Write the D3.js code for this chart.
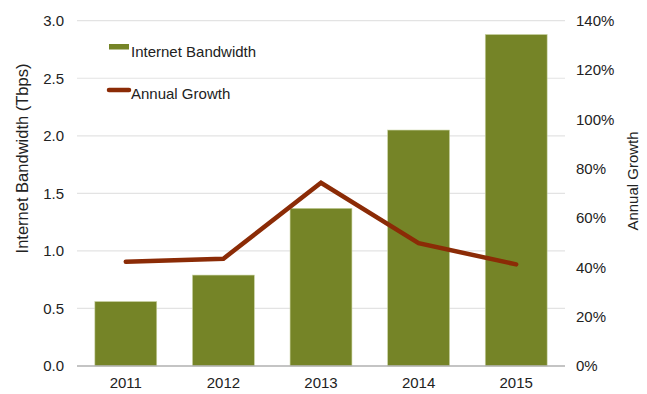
<!DOCTYPE html>
<html>
<head>
<meta charset="utf-8">
<script src="https://cdn.jsdelivr.net/npm/d3@7"></script>
<style>
  html, body { margin: 0; padding: 0; background: #fff; }
  svg { display: block; font-family: "Liberation Sans", Arial, Helvetica, sans-serif; }
</style>
</head>
<body>
<svg id="chart" width="647" height="394"></svg>
<script>
// Internet bandwidth by year (Tbps) and annual growth (%)
const years = ["2011", "2012", "2013", "2014", "2015"];
const bandwidth = [0.56, 0.79, 1.37, 2.05, 2.88];
const growth = [42.3, 43.5, 74.3, 49.8, 41.2];
const leftTicks = [0, 0.5, 1.0, 1.5, 2.0, 2.5, 3.0];
const rightTicks = [0, 20, 40, 60, 80, 100, 120, 140];

const svg = d3.select("#chart");
const margin = { left: 77, right: 82, top: 20.7, bottom: 28 };
const W = 647, H = 394;
const x0 = margin.left, x1 = W - margin.right;
const yTop = margin.top, yBot = H - margin.bottom;

const x = d3.scaleBand().domain(years).range([x0, x1])
  .paddingInner(0.366).paddingOuter(0.183);
const yL = d3.scaleLinear().domain([0, 3]).range([yBot, yTop]);
const yR = d3.scaleLinear().domain([0, 140]).range([yBot, yTop]);

const barColor = "#758427";
const lineColor = "#8b2b06";
const fontSize = 15;

// gridlines
svg.append("g").selectAll("line").data(leftTicks.filter(d => d > 0)).join("line")
  .attr("x1", x0).attr("x2", x1)
  .attr("y1", d => yL(d)).attr("y2", d => yL(d))
  .attr("stroke", "#e3e3e3").attr("stroke-width", 1.2);

// bars
svg.append("g").selectAll("rect").data(years).join("rect")
  .attr("x", d => x(d))
  .attr("width", x.bandwidth())
  .attr("y", (d, i) => yL(bandwidth[i]))
  .attr("height", (d, i) => yL(0) - yL(bandwidth[i]))
  .attr("fill", barColor)
  .attr("stroke", "#c9d3a2").attr("stroke-width", 0.6);

// baseline
svg.append("line")
  .attr("x1", x0).attr("x2", x1)
  .attr("y1", yL(0)).attr("y2", yL(0))
  .attr("stroke", "#b0b0b0").attr("stroke-width", 1.5);

// growth line
const line = d3.line()
  .x((d, i) => x(years[i]) + x.bandwidth() / 2)
  .y(d => yR(d));
svg.append("path").datum(growth)
  .attr("d", line)
  .attr("fill", "none")
  .attr("stroke", lineColor)
  .attr("stroke-width", 4.5)
  .attr("stroke-linejoin", "miter")
  .attr("stroke-linecap", "round");

// left axis
const axL = svg.append("g").attr("transform", `translate(${x0},0)`)
  .call(d3.axisLeft(yL).tickValues(leftTicks).tickFormat(d3.format(".1f")).tickSize(0).tickPadding(13));
axL.select(".domain").remove();
axL.selectAll("text").attr("font-size", fontSize).attr("fill", "#222").attr("font-family", null);

// right axis
const axR = svg.append("g").attr("transform", `translate(${x1},0)`)
  .call(d3.axisRight(yR).tickValues(rightTicks).tickFormat(d => d + "%").tickSize(0).tickPadding(11));
axR.select(".domain").remove();
axR.selectAll("text").attr("font-size", fontSize).attr("fill", "#222").attr("font-family", null);

// bottom axis
const axB = svg.append("g").attr("transform", `translate(0,${yBot})`)
  .call(d3.axisBottom(x).tickSize(0).tickPadding(11));
axB.select(".domain").remove();
axB.selectAll("text").attr("font-size", fontSize).attr("fill", "#222").attr("font-family", null);

// axis titles
svg.append("text")
  .attr("transform", "translate(28,158.5) rotate(-90)")
  .attr("text-anchor", "middle")
  .attr("font-size", 16.5).attr("fill", "#222")
  .text("Internet Bandwidth (Tbps)");
svg.append("text")
  .attr("transform", "translate(638,181) rotate(-90)")
  .attr("text-anchor", "middle")
  .attr("font-size", fontSize).attr("fill", "#222")
  .text("Annual Growth");

// legend
const legend = svg.append("g");
legend.append("rect")
  .attr("x", 109).attr("y", 44).attr("width", 20).attr("height", 5.5)
  .attr("fill", barColor);
legend.append("text")
  .attr("x", 131).attr("y", 57)
  .attr("font-size", fontSize).attr("fill", "#222")
  .text("Internet Bandwidth");
legend.append("line")
  .attr("x1", 109).attr("x2", 129).attr("y1", 90).attr("y2", 90)
  .attr("stroke", lineColor).attr("stroke-width", 4.5).attr("stroke-linecap", "round");
legend.append("text")
  .attr("x", 131).attr("y", 99)
  .attr("font-size", fontSize).attr("fill", "#222")
  .text("Annual Growth");
</script>
</body>
</html>
